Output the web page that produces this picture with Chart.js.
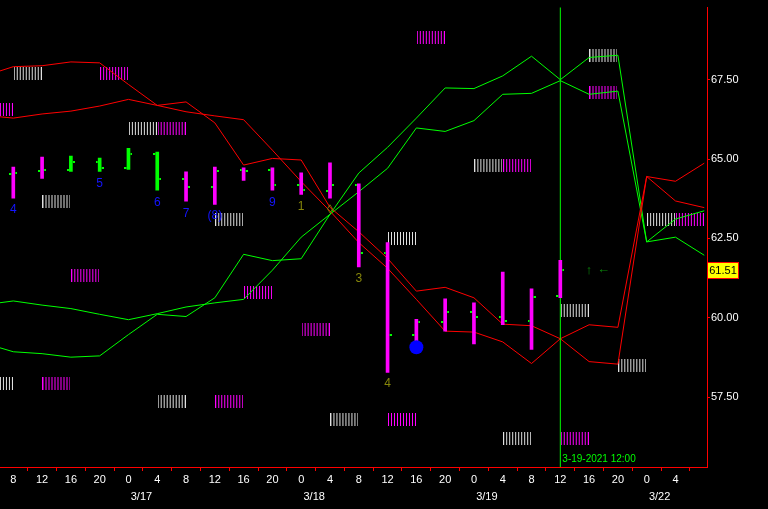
<!DOCTYPE html>
<html>
<head>
<meta charset="utf-8">
<script src="https://cdn.jsdelivr.net/npm/chart.js@4.4.0/dist/chart.umd.min.js"></script>
<style>
  html, body { margin: 0; padding: 0; background: #000; }
  canvas { display: block; }
</style>
</head>
<body>
<canvas id="chart" width="768" height="509"></canvas>
<script>
// x axis: one slot per 4h bar, index 0 = 3/16 8:00
const hourLabels = ['8','12','16','20','0','4','8','12','16','20','0','4','8','12','16','20','0','4','8','12','16','20','0','4']
const dateLabels = ['3/17','3/18','3/19','3/22']
const datePos = [4.45, 10.45, 16.45, 22.45]
const yTicks = [57.5, 60, 62.5, 65, 67.5]

// OHLC bars
const barOpen  = [64.54, 64.61, 64.67, 64.92, 64.73, 65.16, 64.36, 64.13, 64.64, 64.64, 64.17, 63.99, 64.17, 62.03, 59.46, 59.86, 60.17, 60.04, 59.89, 60.69]
const barHigh  = [64.75, 65.06, 65.09, 65.03, 65.34, 65.22, 64.60, 64.75, 64.72, 64.72, 64.57, 64.88, 64.22, 62.37, 59.95, 60.60, 60.47, 61.44, 60.91, 61.81]
const barLow   = [63.77, 64.39, 64.61, 64.61, 64.67, 64.02, 63.67, 63.57, 64.33, 64.02, 63.89, 63.77, 61.60, 58.28, 59.27, 59.58, 59.18, 59.78, 59.00, 60.63]
const barClose = [64.57, 64.67, 64.92, 64.73, 65.15, 64.36, 64.13, 64.61, 64.61, 64.17, 64.02, 64.17, 62.03, 59.46, 59.86, 60.17, 60.04, 59.89, 60.66, 61.51]
const barGreen = [2, 3, 4, 5]
const lastPrice = 61.51
const cursorIdx = 19

// band lines, index -1 .. 24
const lineIdx = [-1,0,1,2,3,4,5,6,7,8,9,10,11,12,13,14,15,16,17,18,19,20,21,22,23,24]
const redA   = [67.62, 67.91, 67.94, 68.06, 68.03, 67.35, 66.69, 66.80, 66.14, 64.81, 65.02, 64.97, 63.48, 62.71, 61.87, 60.84, 60.96, 60.63, 59.80, 59.75, 59.34, 59.78, 59.70, 64.45, 64.30, 64.87]
const redB   = [66.38, 66.29, 66.42, 66.51, 66.67, 66.88, 66.69, 66.49, 66.36, 66.24, 65.28, 64.29, 63.36, 62.37, 61.56, 60.58, 59.58, 59.55, 59.24, 58.56, 59.34, 58.62, 58.54, 64.45, 63.68, 63.47]
const greenA = [60.41, 60.53, 60.40, 60.29, 60.11, 59.94, 60.13, 60.34, 60.47, 60.58, 61.50, 62.54, 63.26, 63.97, 64.71, 65.98, 65.87, 66.21, 67.04, 67.07, 67.47, 67.04, 67.14, 62.39, 63.11, 63.37]
const greenB = [59.20, 58.93, 58.87, 58.76, 58.80, 59.47, 60.11, 60.04, 60.63, 62.00, 61.80, 61.86, 63.26, 64.56, 65.37, 66.29, 67.24, 67.22, 67.62, 68.24, 67.50, 68.20, 68.27, 62.39, 62.54, 61.97]

// hatch markers (start slot, price)
const whiteHatchIdx = [0, 4, 1, 7, 13, 16, 19, 20, 21, 22, -1, 5, 11, 17]
const whiteHatchVal = [67.70, 65.96, 63.67, 63.11, 62.49, 64.81, 60.23, 68.25, 58.49, 63.11, 57.93, 57.35, 56.79, 56.20]
const pinkHatchIdx = [3, -1, 5, 2, 8, 10, 14, 17, 20, 23, 1, 7, 13, 19]
const pinkHatchVal = [67.70, 66.55, 65.96, 61.34, 60.79, 59.64, 68.84, 64.81, 67.11, 63.11, 57.93, 57.35, 56.79, 56.20]

// count labels
const labelIdx = [0, 3, 5, 6, 7, 9, 10, 11, 12, 13, 20, 20.5]
const labelVal = [63.42, 64.22, 63.64, 63.29, 63.21, 63.64, 63.50, 63.42, 61.22, 57.91, 61.50, 61.52]
const labelText = ['4', '5', '6', '7', '(8)', '9', '1', '◊', '3', '4', '↑', '←']
const labelColor = ['#1414ff','#1414ff','#1414ff','#1414ff','#1414ff','#1414ff','#86860a','#86860a','#86860a','#86860a','#0b8a0b','#0b8a0b']

const dotIdx = [14]
const dotVal = [59.07]

const MAGENTA = '#ff00ff'
const GREEN = '#00ff00'
const RED = '#ff0000'

function makeHatch(color){
  const c = document.createElement('canvas')
  c.width = 28
  c.height = 13
  const g = c.getContext('2d')
  g.fillStyle = color
  for(let i = 0; i < 10; i++) g.fillRect(i * 3, 0, 1, 13)
  return c
}

function makeTick(left){
  const c = document.createElement('canvas')
  c.width = 8
  c.height = 2
  const g = c.getContext('2d')
  g.fillStyle = GREEN
  g.fillRect(left ? 0 : 6, 0, 2, 2)
  return c
}

const whiteHatch = makeHatch('#e0e0e0')
const pinkHatch = makeHatch(MAGENTA)

const barData = barLow.map((l, i) => ({x: i, y: [l, barHigh[i]]}))
const barColors = barLow.map((l, i) => barGreen.includes(i) ? GREEN : MAGENTA)

function lineSet(values, color){
  return {
    type: 'line',
    data: values.map((v, i) => ({x: lineIdx[i], y: v})),
    borderColor: color,
    borderWidth: 1,
    pointRadius: 0,
    tension: 0,
    order: 4,
  }
}

const annotPlugin = {
  id: 'annot',
  afterDatasetsDraw(chart) {
    const {ctx, scales: {x, y}, chartArea} = chart
    ctx.save()
    ctx.textAlign = 'center'
    ctx.textBaseline = 'middle'
    labelText.forEach((t, i) => {
      ctx.font = (labelColor[i] === '#0b8a0b' ? 'bold 13px' : '12px') + ' "Liberation Sans"'
      ctx.fillStyle = labelColor[i]
      ctx.fillText(t, x.getPixelForValue(labelIdx[i]), y.getPixelForValue(labelVal[i]))
    })
    ctx.font = '10px "Liberation Sans"'
    ctx.fillStyle = GREEN
    ctx.textAlign = 'left'
    ctx.textBaseline = 'bottom'
    ctx.fillText('3-19-2021 12:00', x.getPixelForValue(cursorIdx) + 2, chartArea.bottom - 3)
    ctx.restore()
  },
  afterDraw(chart) {
    const {ctx, scales: {y}, chartArea} = chart
    const py = Math.round(y.getPixelForValue(lastPrice))
    ctx.save()
    ctx.fillStyle = '#ffff00'
    ctx.fillRect(chartArea.right, py - 8, 32, 17)
    ctx.strokeStyle = RED
    ctx.lineWidth = 1
    ctx.strokeRect(chartArea.right + 0.5, py - 7.5, 31, 16)
    ctx.fillStyle = '#000'
    ctx.font = '11px "Liberation Sans"'
    ctx.textAlign = 'center'
    ctx.textBaseline = 'middle'
    ctx.fillText(lastPrice.toFixed(2), chartArea.right + 16, py + 1)
    ctx.restore()
  }
}

const chart = new Chart(document.getElementById('chart'), {
  type: 'line',
  data: {
    datasets: [
      {
        type: 'scatter',
        data: whiteHatchIdx.map((s, i) => ({x: s + 0.5, y: whiteHatchVal[i]})),
        pointStyle: whiteHatch,
        pointRadius: 8,
        order: 6,
      },
      {
        type: 'scatter',
        data: pinkHatchIdx.map((s, i) => ({x: s + 0.5, y: pinkHatchVal[i]})),
        pointStyle: pinkHatch,
        pointRadius: 8,
        order: 6,
      },
      lineSet(redA, RED),
      lineSet(redB, RED),
      lineSet(greenA, GREEN),
      lineSet(greenB, GREEN),
      {
        type: 'line',
        data: [{x: cursorIdx, y: 50}, {x: cursorIdx, y: 75}],
        borderColor: GREEN,
        borderWidth: 1,
        pointRadius: 0,
        order: 3,
      },
      {
        type: 'bar',
        data: barData,
        backgroundColor: barColors,
        borderWidth: 0,
        barThickness: 3,
        order: 2,
      },
      {
        type: 'scatter',
        data: barOpen.map((v, i) => ({x: i, y: v})),
        pointStyle: makeTick(true),
        pointRadius: 4,
        order: 1,
      },
      {
        type: 'scatter',
        data: barClose.map((v, i) => ({x: i, y: v})),
        pointStyle: makeTick(false),
        pointRadius: 4,
        order: 1,
      },
      {
        type: 'scatter',
        data: dotIdx.map((v, i) => ({x: v, y: dotVal[i]})),
        pointRadius: 7,
        backgroundColor: '#0000ff',
        borderWidth: 0,
        order: 0,
      },
    ]
  },
  options: {
    responsive: false,
    animation: false,
    devicePixelRatio: 1,
    layout: {padding: 0, autoPadding: false},
    plugins: {
      legend: {display: false},
      tooltip: {enabled: false},
    },
    scales: {
      x: {
        type: 'linear',
        position: 'bottom',
        min: -0.462,
        max: 24.095,
        offset: false,
        afterBuildTicks: (scale) => { scale.ticks = hourLabels.map((h, i) => ({value: i})) },
        afterFit: (scale) => { scale.height = 22 },
        grid: {drawOnChartArea: false, drawTicks: true, tickLength: 4, color: RED},
        border: {color: RED, width: 1},
        ticks: {
          autoSkip: false,
          maxRotation: 0,
          padding: 2,
          color: '#ffffff',
          font: {family: 'Liberation Sans', size: 11},
          callback: (v) => hourLabels[v],
        },
      },
      x2: {
        type: 'linear',
        position: 'bottom',
        weight: 1,
        min: -0.462,
        max: 24.095,
        offset: false,
        afterBuildTicks: (scale) => { scale.ticks = datePos.map(v => ({value: v})) },
        afterFit: (scale) => { scale.height = 20 },
        grid: {display: false, drawTicks: false, tickLength: 0},
        border: {display: false},
        ticks: {
          autoSkip: false,
          maxRotation: 0,
          padding: 1,
          color: '#ffffff',
          font: {family: 'Liberation Sans', size: 11},
          callback: (v) => dateLabels[datePos.indexOf(v)],
        },
      },
      y: {
        type: 'linear',
        position: 'right',
        min: 55.30,
        max: 69.771,
        afterBuildTicks: (scale) => { scale.ticks = yTicks.map(v => ({value: v})) },
        afterFit: (scale) => { scale.width = 61 },
        grid: {drawOnChartArea: false, drawTicks: true, tickLength: 3, color: RED},
        border: {color: RED, width: 1},
        ticks: {
          padding: 1,
          color: '#ffffff',
          font: {family: 'Liberation Sans', size: 11},
          callback: (v) => v.toFixed(2),
        },
      },
    },
  },
  plugins: [annotPlugin],
})
</script>
</body>
</html>
